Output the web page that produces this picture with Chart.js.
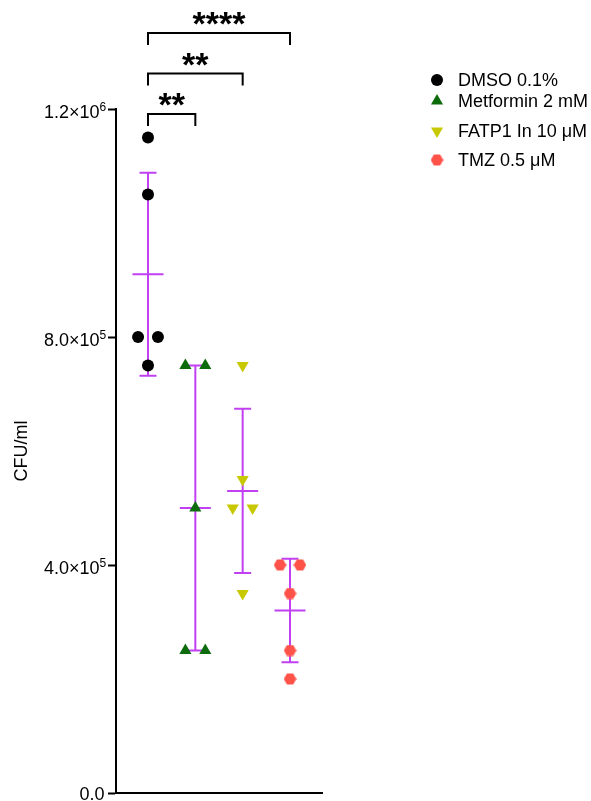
<!DOCTYPE html>
<html>
<head>
<meta charset="utf-8">
<script src="https://cdn.jsdelivr.net/npm/chart.js@4.4.1/dist/chart.umd.min.js"></script>
<style>
  html, body { margin: 0; padding: 0; background: #fff; }
</style>
</head>
<body>
<canvas id="cfuChart" width="591" height="801"></canvas>
<script>
// groups and replicate values (CFU/ml)
var groups    = ['DMSO 0.1%', 'Metformin 2 mM', 'FATP1 In 10 μM', 'TMZ 0.5 μM'];
var dmso      = [1150000, 1050000, 800000, 800000, 750000];
var metformin = [750000, 750000, 500000, 250000, 250000];
var fatp1     = [750000, 550000, 500000, 500000, 350000];
var tmz       = [400000, 400000, 350000, 250000, 200000];
// horizontal scatter offsets of the replicates, in category units
var jitter = [
    [0, 0, -0.21, 0.21, 0],
    [-0.21, 0.21, 0, -0.21, 0.21],
    [0, 0, -0.21, 0.21, 0],
    [-0.21, 0.21, 0, 0, 0]
];
var yTicks    = [0, 400000, 800000, 1200000];
var yTickBase = ['0.0', '4.0×10', '8.0×10', '1.2×10'];
var yTickExp  = ['', '5', '5', '6'];
var comparisons = [[0, 1, '**'], [0, 2, '**'], [0, 3, '****']];

var series  = [dmso, metformin, fatp1, tmz];
var colors  = ['#000000', '#0c6c0c', '#c8c800', '#ff5248'];
var FONT    = '"Liberation Sans", Arial, sans-serif';
var ERR_COL = '#c040f2';

function hexagon(color) {
    var c = document.createElement('canvas');
    c.width = 13; c.height = 12;
    var g = c.getContext('2d');
    g.fillStyle = color;
    g.beginPath();
    for (var k = 0; k < 6; k++) {
        var a = Math.PI / 3 * k;
        var px = 6.5 + 6.3 * Math.cos(a), py = 6 + 6.3 * Math.sin(a);
        if (k) g.lineTo(px, py); else g.moveTo(px, py);
    }
    g.closePath();
    g.fill();
    return c;
}
var hexImg = hexagon(colors[3]);

var markers = [
    { style: 'circle',   radius: 6, rotation: 0 },
    { style: 'triangle', radius: 7, rotation: 0 },
    { style: 'triangle', radius: 7, rotation: 180 },
    { style: hexImg,     radius: 6, rotation: 0 }
];

var datasets = series.map(function (vals, i) {
    return {
        label: groups[i],
        data: vals.map(function (v, j) { return { x: i + 1 + jitter[i][j], y: v }; }),
        backgroundColor: colors[i],
        borderColor: colors[i],
        borderWidth: 0,
        pointStyle: markers[i].style,
        pointRadius: markers[i].radius,
        pointRotation: markers[i].rotation
    };
});

function stats(vals) {
    var n = vals.length;
    var m = vals.reduce(function (a, b) { return a + b; }, 0) / n;
    var ss = vals.reduce(function (a, b) { return a + (b - m) * (b - m); }, 0);
    return { mean: m, sd: Math.sqrt(ss / (n - 1)) };
}

// mean and SD bars, drawn under the points
var errorBars = {
    id: 'errorBars',
    beforeDatasetsDraw: function (chart) {
        var ctx = chart.ctx, xs = chart.scales.x, ys = chart.scales.y;
        ctx.save();
        ctx.strokeStyle = ERR_COL;
        ctx.lineWidth = 2;
        series.forEach(function (vals, i) {
            var s = stats(vals);
            var cx = xs.getPixelForValue(i + 1);
            var yHi = ys.getPixelForValue(s.mean + s.sd);
            var yLo = ys.getPixelForValue(s.mean - s.sd);
            var yM = ys.getPixelForValue(s.mean);
            ctx.beginPath();
            ctx.moveTo(cx, yHi); ctx.lineTo(cx, yLo);
            ctx.moveTo(cx - 8.5, yHi); ctx.lineTo(cx + 8.5, yHi);
            ctx.moveTo(cx - 8.5, yLo); ctx.lineTo(cx + 8.5, yLo);
            ctx.moveTo(cx - 15.5, yM); ctx.lineTo(cx + 15.5, yM);
            ctx.stroke();
        });
        ctx.restore();
    }
};

// y tick labels with raised exponents
var tickLabels = {
    id: 'tickLabels',
    afterDraw: function (chart) {
        var ctx = chart.ctx, ys = chart.scales.y;
        ctx.save();
        ctx.fillStyle = '#000';
        ctx.textBaseline = 'alphabetic';
        yTicks.forEach(function (v, i) {
            var y = ys.getPixelForValue(v);
            if (yTickExp[i]) {
                ctx.font = '18px ' + FONT;
                ctx.textAlign = 'right';
                ctx.fillText(yTickBase[i], 99.5, y + 8.5);
                ctx.font = '12px ' + FONT;
                ctx.textAlign = 'left';
                ctx.fillText(yTickExp[i], 99.5, y + 1.5);
            } else {
                ctx.font = '18px ' + FONT;
                ctx.textAlign = 'right';
                ctx.fillText(yTickBase[i], 104.5, y + 6.5);
            }
        });
        ctx.restore();
    }
};

var brackets = {
    id: 'brackets',
    afterDraw: function (chart) {
        var ctx = chart.ctx, xs = chart.scales.x;
        var top = chart.chartArea.top;
        ctx.save();
        ctx.strokeStyle = '#000';
        ctx.fillStyle = '#000';
        ctx.lineWidth = 2;
        ctx.font = 'bold 34px ' + FONT;
        ctx.textAlign = 'center';
        ctx.textBaseline = 'alphabetic';
        comparisons.forEach(function (c, k) {
            var x1 = xs.getPixelForValue(c[0] + 1);
            var x2 = xs.getPixelForValue(c[1] + 1);
            var y = top + 5 - 40.5 * k;
            ctx.beginPath();
            ctx.moveTo(x1, y + 12); ctx.lineTo(x1, y); ctx.lineTo(x2, y); ctx.lineTo(x2, y + 12);
            ctx.stroke();
            ctx.fillText(c[2], (x1 + x2) / 2, y + 2);
        });
        ctx.restore();
    }
};

function drawMarker(ctx, i, x, y) {
    ctx.fillStyle = colors[i];
    ctx.beginPath();
    if (i === 0) {
        ctx.arc(x, y, 6, 0, Math.PI * 2);
    } else if (i === 1 || i === 2) {
        var r = 7, dir = i === 1 ? -1 : 1;
        ctx.moveTo(x, y + dir * r);
        ctx.lineTo(x + r * 0.866, y - dir * r / 2);
        ctx.lineTo(x - r * 0.866, y - dir * r / 2);
        ctx.closePath();
    } else {
        ctx.drawImage(hexImg, x - 6.5, y - 6);
        return;
    }
    ctx.fill();
}

var sideLegend = {
    id: 'sideLegend',
    afterDraw: function (chart) {
        var ctx = chart.ctx;
        var rows = [80, 101, 131, 160];
        ctx.save();
        ctx.font = '18px ' + FONT;
        ctx.textBaseline = 'middle';
        ctx.textAlign = 'left';
        groups.forEach(function (g, i) {
            drawMarker(ctx, i, 437, rows[i]);
            ctx.fillStyle = '#000';
            ctx.fillText(g, 458, rows[i] + 1);
        });
        ctx.restore();
    }
};

new Chart(document.getElementById('cfuChart'), {
    type: 'scatter',
    data: { datasets: datasets },
    options: {
        responsive: false,
        animation: false,
        layout: { padding: { top: 109, right: 269, bottom: 8, left: 0 } },
        plugins: {
            legend: { display: false },
            tooltip: { enabled: false }
        },
        scales: {
            x: {
                type: 'linear',
                min: 0.324,
                max: 4.676,
                ticks: { display: false },
                grid: { display: true, drawOnChartArea: false, drawTicks: false },
                border: { color: '#000', width: 2 },
                afterFit: function (s) { s.height = 0; }
            },
            y: {
                min: 0,
                max: 1200000,
                afterBuildTicks: function (s) {
                    s.ticks = yTicks.map(function (v) { return { value: v }; });
                },
                ticks: { display: false },
                grid: {
                    display: true,
                    drawOnChartArea: false,
                    drawTicks: true,
                    tickLength: 8,
                    tickWidth: 2,
                    tickColor: '#000'
                },
                border: { color: '#000', width: 2 },
                title: {
                    display: true,
                    text: 'CFU/ml',
                    color: '#000',
                    font: { family: FONT, size: 18 },
                    padding: { top: 11, bottom: 0 }
                },
                afterFit: function (s) {
                    s.width = 116;
                    s.paddingTop = 0;
                    s.paddingBottom = 0;
                }
            }
        }
    },
    plugins: [errorBars, tickLabels, brackets, sideLegend]
});
</script>
</body>
</html>
